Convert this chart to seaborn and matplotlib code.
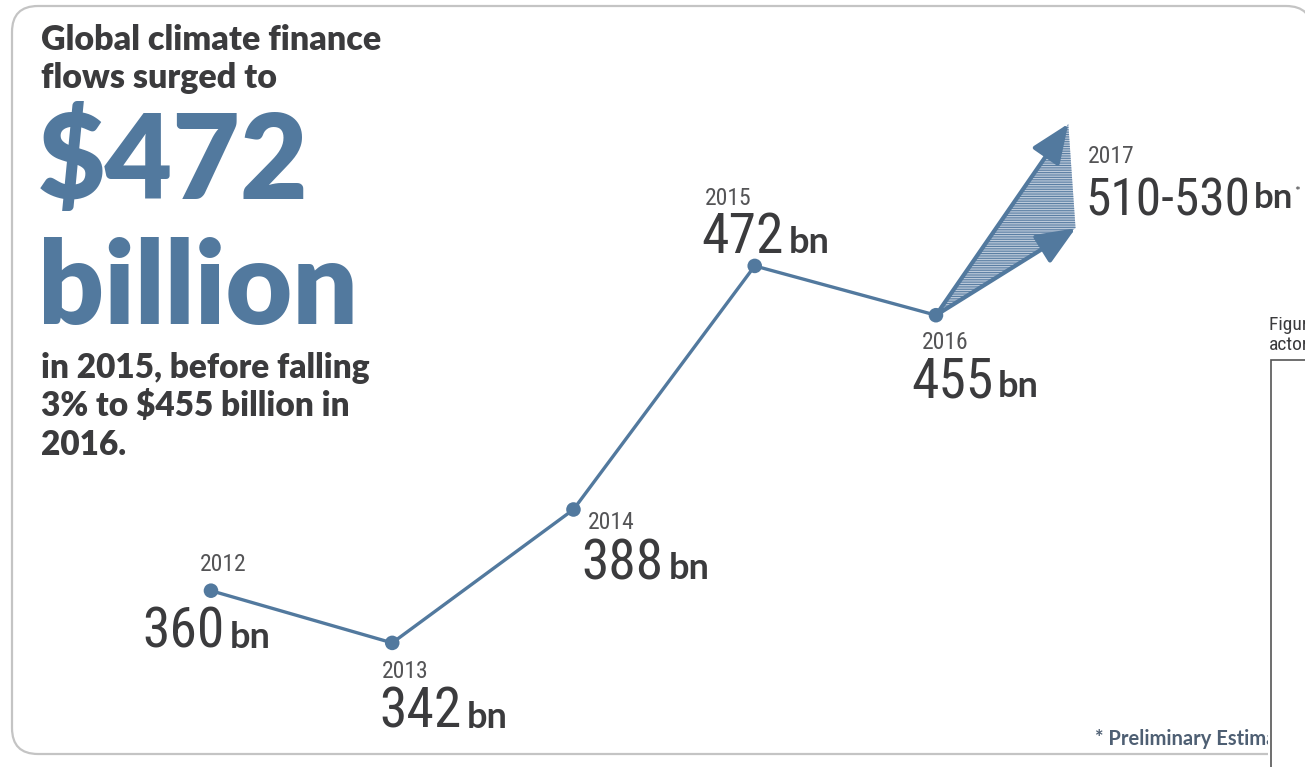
import pandas as pd
import seaborn as sns
import matplotlib.pyplot as plt
import matplotlib.transforms as mtransforms
from matplotlib import font_manager as fm
from matplotlib.patches import FancyBboxPatch, Polygon, Rectangle

years = [2012, 2013, 2014, 2015, 2016]
flows = [360, 342, 388, 472, 455]
year_labels = ['2012', '2013', '2014', '2015', '2016']
value_labels = ['360', '342', '388', '472', '455']
proj_year = '2017'
proj_label = '510-530'
proj_tip_x = [2016.73, 2016.77]   # the two arrow heads of the 2017 fan
proj_tip_y = [521, 485]

BLUE = '#52799e'
DARK = '#3b3b3d'
GREY = '#545456'
W, H = 1305, 767

sns.set_theme(style='white')
plt.rcParams['font.family'] = ['Lato', 'DejaVu Sans']
plt.rcParams['hatch.linewidth'] = 0.8

# pick a narrow face for the numbers, whatever is installed
fonts = fm.fontManager.ttflist
names = {f.name for f in fonts}
NARROW, STRETCH = ['DejaVu Sans'], 'normal'
for cand in ['Liberation Sans Narrow', 'Roboto Condensed', 'Open Sans Condensed',
             'Noto Sans Condensed', 'DejaVu Sans Condensed', 'Noto Sans ExtraCondensed']:
    if cand in names:
        NARROW = [cand, 'DejaVu Sans']
        break
else:
    cond = [f for f in fonts if str(f.stretch) in ('condensed', 'semi-condensed', '75', '87')]
    if cond:
        NARROW, STRETCH = [cond[0].name, 'DejaVu Sans'], 'condensed'

fig = plt.figure(figsize=(W / 100, H / 100), dpi=100)
ax = fig.add_axes([0, 0, 1, 1])
ax.set_xlim(2010.836, 2018.036)
ax.set_ylim(299.2, 563.7)
ax.axis('off')

# top-down pixel coordinates for the decoration
px = mtransforms.Affine2D().scale(1 / W, -1 / H).translate(0, 1) + fig.transFigure

df = pd.DataFrame({'year': years, 'flow': flows})
sns.lineplot(data=df, x='year', y='flow', color=BLUE, lw=2.4, ax=ax, zorder=3)
sns.scatterplot(data=df, x='year', y='flow', color=BLUE, s=110, edgecolor='none', ax=ax, zorder=4)

# 2017 projection fan
fan = Polygon([(years[-1], flows[-1]), (proj_tip_x[0], proj_tip_y[0]), (proj_tip_x[1], proj_tip_y[1])],
              closed=True, facecolor='#bccada', edgecolor='#5a7ea3', hatch='-------', lw=0, zorder=2)
ax.add_patch(fan)
for tx, ty in zip(proj_tip_x, proj_tip_y):
    ax.annotate('', xy=(tx, ty), xytext=(years[-1], flows[-1]),
                arrowprops=dict(arrowstyle='-|>,head_length=1.2,head_width=0.5', color=BLUE,
                                lw=3, shrinkA=0, shrinkB=0, mutation_scale=20), zorder=3)

# year / value labels (offsets in pixels from each point)
year_off = [(-11, 20), (-10, -35), (14, -20), (-50, 61), (-14, -34)]
val_off = [(-69, -57), (-13, -85), (8, -70), (-53, 13), (-25, -82)]
for x, y, yl, vl, yo, vo in zip(years, flows, year_labels, value_labels, year_off, val_off):
    ax.annotate(yl, xy=(x, y), xytext=yo, textcoords='offset pixels', va='baseline', ha='left',
                fontsize=17, family=NARROW, fontstretch=STRETCH, color=GREY)
    t = ax.annotate(vl, xy=(x, y), xytext=vo, textcoords='offset pixels', va='baseline', ha='left',
                    fontsize=40, family=NARROW, fontstretch=STRETCH, color=DARK)
    ax.annotate('bn', xy=(1, y), xycoords=(t, 'data'), xytext=(5, vo[1]), textcoords='offset pixels',
                va='baseline', ha='left', fontsize=26, fontweight='bold', color=DARK)

ax.text(1088, 163, proj_year, transform=px, fontsize=17, family=NARROW, fontstretch=STRETCH,
        color=GREY, va='baseline')
t = ax.text(1085, 215, proj_label, transform=px, fontsize=37, family=NARROW, fontstretch=STRETCH,
            color=DARK, va='baseline')
b = ax.annotate('bn', xy=(1, 0), xycoords=(t, px), xytext=(4, -208), textcoords='offset pixels',
                va='baseline', fontsize=25, fontweight='bold', color=DARK)
ax.annotate('*', xy=(1, 0), xycoords=(b, px), xytext=(1, -196), textcoords='offset pixels',
            va='baseline', fontsize=10, color=DARK)

# headline block
ax.text(41, 50, 'Global climate finance', transform=px, fontsize=24.5, fontweight='heavy', color=DARK)
ax.text(41, 88, 'flows surged to', transform=px, fontsize=24.5, fontweight='heavy', color=DARK)
ax.text(38, 199, '$472', transform=px, fontsize=84, fontweight='heavy', color=BLUE)
ax.text(38, 324, 'billion', transform=px, fontsize=83, fontweight='heavy', color=BLUE)
for i, line in enumerate(['in 2015, before falling', '3% to $455 billion in', '2016.']):
    ax.text(41, 378 + i * 38.5, line, transform=px, fontsize=24, fontweight='heavy', color=DARK)

# frame and the clipped neighbour panel
frame = FancyBboxPatch((12, 6), 1300, 748, boxstyle='round,pad=0,rounding_size=26', transform=px,
                       facecolor='none', edgecolor='#c4c4c4', lw=1.6, clip_on=False, zorder=1)
ax.add_patch(frame)
ax.text(1095, 745, '* Preliminary Estimates', transform=px, fontsize=14.5, fontweight='bold',
        color='#4e5f73', zorder=5)
ax.add_patch(Rectangle((1268, 358), 60, 420, transform=px, facecolor='white', edgecolor='none',
                       clip_on=False, zorder=6))
ax.add_patch(Rectangle((1271, 360), 60, 420, transform=px, facecolor='white', edgecolor='#555555',
                       lw=1.2, clip_on=False, zorder=7))
ax.text(1269, 330, 'Figure 1', transform=px, fontsize=14, family=NARROW, fontstretch=STRETCH,
        color=DARK, zorder=8)
ax.text(1269, 350, 'actors', transform=px, fontsize=14, family=NARROW, fontstretch=STRETCH,
        color=DARK, zorder=8)

fig.savefig('out.png', dpi=100)
